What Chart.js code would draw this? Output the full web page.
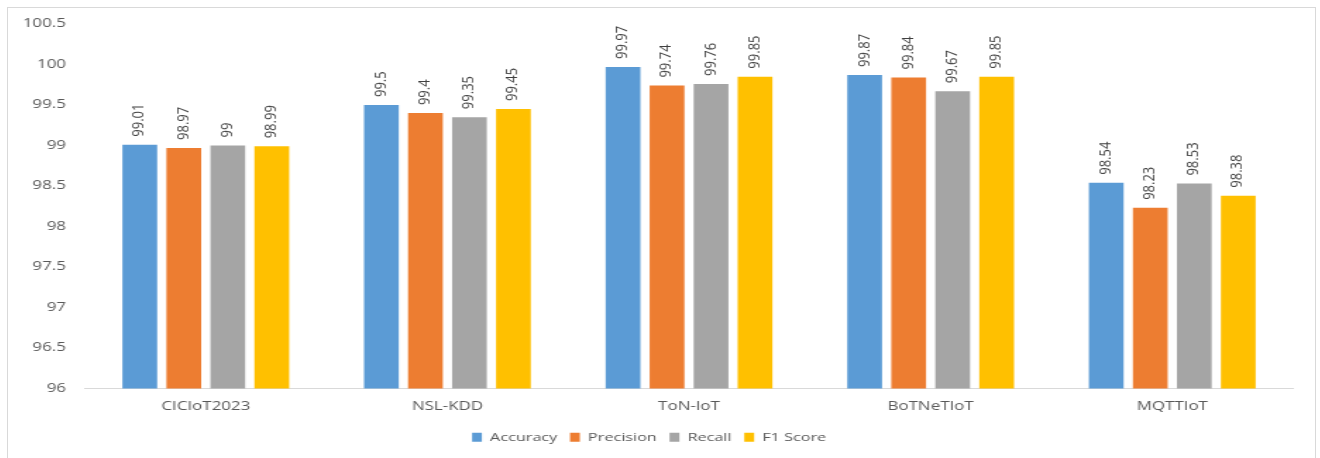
<!DOCTYPE html>
<html>
<head>
<meta charset="utf-8">
<script src="https://cdn.jsdelivr.net/npm/chart.js@4.4.1/dist/chart.umd.min.js"></script>
<style>
  html, body { margin: 0; padding: 0; background: #ffffff; overflow: hidden; }
  #frame {
    position: absolute; left: 7px; top: 7px;
    width: 1307px; height: 460px;
    border: 1px solid #d9d9d9; overflow: hidden; background: #fff;
  }
  /* the chart is laid out narrow and widened horizontally */
  #stage {
    position: absolute; left: 0; top: 0;
    width: 927px; height: 450px;
    transform: scaleX(1.41); transform-origin: 0 0;
  }
</style>
</head>
<body>
<div id="frame"><div id="stage"><canvas id="chart"></canvas></div></div>
<script>
// Detection metrics per dataset
const categories = ['CICIoT2023', 'NSL-KDD', 'ToN-IoT', 'BoTNeTIoT', 'MQTTIoT'];
const accuracy  = [99.01, 99.5, 99.97, 99.87, 98.54];
const precision = [98.97, 99.4, 99.74, 99.84, 98.23];
const recall    = [99,    99.35, 99.76, 99.67, 98.53];
const f1Score   = [98.99, 99.45, 99.85, 99.85, 98.38];
const seriesNames = ['Accuracy', 'Precision', 'Recall', 'F1 Score'];
const seriesColors = ['#5b9bd5', '#ed7d31', '#a5a5a5', '#ffc000'];
const yMin = 96, yMax = 100.5, yStep = 0.5;

Chart.defaults.font.family = "'Open Sans', 'DejaVu Sans', sans-serif";

// Vertical value labels above each bar
const barValueLabels = {
  id: 'barValueLabels',
  afterDatasetsDraw(chart) {
    const ctx = chart.ctx;
    ctx.save();
    ctx.fillStyle = '#404040';
    ctx.font = "13px 'Open Sans', sans-serif";
    ctx.textAlign = 'left';
    ctx.textBaseline = 'middle';
    chart.data.datasets.forEach((ds, di) => {
      const meta = chart.getDatasetMeta(di);
      meta.data.forEach((bar, i) => {
        ctx.save();
        ctx.translate(bar.x, bar.y - 8);
        ctx.rotate(-Math.PI / 2);
        ctx.scale(1, 0.8);
        ctx.fillText(String(ds.data[i]), 0, 0);
        ctx.restore();
      });
    });
    ctx.restore();
  }
};

// Nudge the legend slightly left of centre
const legendOffset = {
  id: 'legendOffset',
  afterLayout(chart) {
    if (chart.legend) {
      chart.legend.left -= 1;
      chart.legend.right -= 1;
    }
  }
};

const datasets = [accuracy, precision, recall, f1Score].map((vals, k) => ({
  label: seriesNames[k],
  data: vals,
  backgroundColor: seriesColors[k],
  borderWidth: 0,
  categoryPercentage: 0.7285,
  barPercentage: 0.79
}));

new Chart(document.getElementById('chart'), {
  type: 'bar',
  data: { labels: categories, datasets },
  plugins: [barValueLabels, legendOffset],
  options: {
    responsive: true,
    maintainAspectRatio: false,
    animation: false,
    layout: { padding: { top: 16, right: 15.6, bottom: 5, left: 0 } },
    plugins: {
      tooltip: { enabled: false },
      legend: {
        position: 'bottom',
        labels: {
          color: '#595959',
          font: { size: 11.5 },
          boxWidth: 7,
          boxHeight: 9,
          padding: 9
        }
      }
    },
    scales: {
      x: {
        grid: { display: false, drawTicks: false },
        border: { display: true, color: '#d9d9d9', width: 1 },
        ticks: { color: '#595959', font: { size: 12 }, padding: 11, maxRotation: 0 },
        afterFit(scale) { scale.height = 34; }
      },
      y: {
        min: yMin,
        max: yMax,
        grid: { display: false, drawTicks: false },
        border: { display: false },
        ticks: {
          stepSize: yStep,
          color: '#595959',
          font: { size: 12 },
          padding: 13.5,
          callback: v => String(Number(v.toFixed(1)))
        },
        afterFit(scale) {
          scale.width = 54.6;
          // the outer layout padding already leaves room for the end labels
          scale.paddingTop = 0;
          scale.paddingBottom = 0;
        }
      }
    }
  }
});
</script>
</body>
</html>
